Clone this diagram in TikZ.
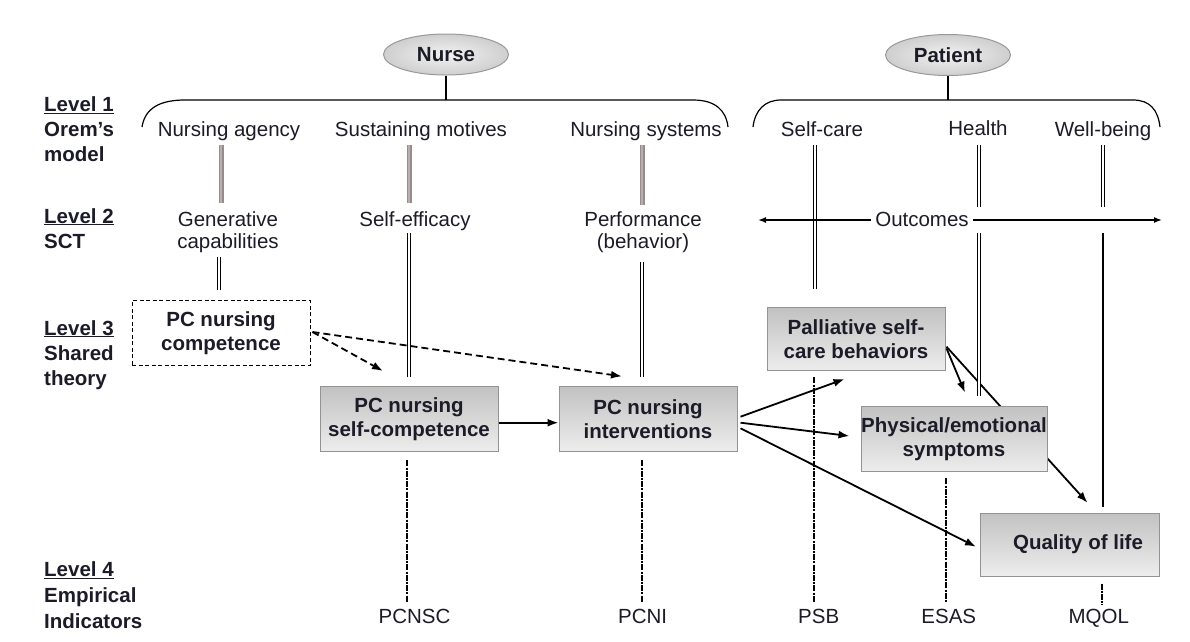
\documentclass[tikz,border=0pt]{standalone}
\usepackage{fontspec}
\setmainfont{Liberation Sans}
\usetikzlibrary{arrows.meta,calc,shapes.geometric}
\pgfdeclarelayer{background}
\pgfdeclarelayer{paper}
\pgfsetlayers{paper,background,main}
\definecolor{ink}{RGB}{28,28,40}
\definecolor{linkgray}{RGB}{150,140,140}
\definecolor{linkfill}{RGB}{185,175,175}
% text lines stacked with a given leading; the node baseline is the first line
\newcommand\rows[3]{{\fontsize{20.5}{#1}\selectfont\begin{tabular}[t]{@{}#2@{}}#3\end{tabular}}}
\begin{document}
\begin{tikzpicture}[x=1pt,y=-1pt,
  every node/.style={text=ink, inner sep=0pt, font=\fontsize{20.5}{24}\selectfont},
  hdr/.style={anchor=base west, font=\bfseries\fontsize{20.5}{25}\selectfont},
  lbl/.style={anchor=base},
  box/.style={draw=gray!85, line width=1pt, top color=gray!48, bottom color=gray!14,
    minimum width=178pt, minimum height=65pt, align=center,
    font=\bfseries\fontsize{20.5}{24.5}\selectfont},
  dbox/.style={draw=black, line width=1pt, dash pattern=on 4pt off 2.5pt, fill=white,
    minimum width=178pt, minimum height=65pt, align=center,
    font=\bfseries\fontsize{20.5}{23.5}\selectfont},
  oval/.style={ellipse, draw=gray!80, line width=1pt, inner color=gray!10, outer color=gray!38,
    minimum width=125pt, minimum height=41pt, font=\bfseries\fontsize{20.5}{24}\selectfont},
  dline/.style={draw=black, double=white, double distance=2pt, line width=1.1pt},
  gline/.style={draw=linkgray, double=linkfill, double distance=2.8pt, line width=1.1pt},
  thin/.style={line width=1.2pt},
  arr/.style={line width=1.8pt, -{Latex[length=11pt,width=8pt]}},
  darr/.style={arr, dash pattern=on 7pt off 4pt},
  ind/.style={line width=2pt, dash pattern=on 6pt off 1.2pt on 2pt off 1.2pt},
]
\useasboundingbox (0,0) rectangle (1190,641);
\begin{pgfonlayer}{paper}
\fill[white] (0,0) rectangle (1190,641);
\end{pgfonlayer}

% level headings on the left
\node[hdr] (h1) at (44,111.7) {\rows{25}{l}{\underline{Level 1}\\Orem’s\\model}};
\node[hdr] (h2) at (44,223) {\rows{25}{l}{\underline{Level 2}\\SCT}};
\node[hdr] (h3) at (44,335) {\rows{25}{l}{\underline{Level 3}\\Shared\\theory}};
\node[hdr] (h4) at (44,576.7) {\rows{25.7}{l}{\underline{Level 4}\\Empirical\\Indicators}};

% top ovals and brackets
\node[oval] (nurse) at (446,54.5) {Nurse};
\node[oval] (patient) at (948,55) {Patient};
\coordinate (nb) at (446,100);
\coordinate (pb) at (948,100);
\draw[thin] (142,127) .. controls (145,108) and (160,100) .. (185,100) -- (693,100)
  .. controls (715,100) and (726,110) .. (728,127);
\draw[thin] (753,127) .. controls (755,110) and (765,100) .. (781,100) -- (1133,100)
  .. controls (1150,100) and (1158,110) .. (1160,127);
\draw[thin] (nurse.south) -- (nb);
\draw[thin] (patient.south) -- (pb);

% level 1 concepts
\node[lbl] (nagency) at (229,136) {Nursing agency};
\node[lbl] (smotives) at (421,136) {Sustaining motives};
\node[lbl] (nsystems) at (646,136) {Nursing systems};
\node[lbl] (selfcare) at (822,136.7) {Self-care};
\node[lbl] (health) at (978,135) {Health};
\node[lbl] (wellbeing) at (1103,136) {Well-being};

% level 2 concepts
\node[lbl] (gen) at (228,226.7) {\rows{21.6}{c}{Generative\\capabilities}};
\node[lbl] (selfeff) at (415,226.7) {Self-efficacy};
\node[lbl] (perf) at (643,226.7) {\rows{21.6}{c}{Performance\\(behavior)}};

% level 3 concepts
\node[dbox] (comp) at (221,333.4) {PC nursing\\competence};
\node[box] (selfcomp) at (409,419) {PC nursing\\self-competence};
\node[box] (interv) at (648,419) {PC nursing\\interventions};
\node[box, minimum height=63pt] (pall) at (856,339.4) {Palliative self-\\care behaviors};
\node[box, minimum width=186pt] (phys) at (954,439) {Physical/emotional\\symptoms};
\node[box, minimum width=179pt, minimum height=63pt] (qol) at (1069.5,544.5) {\hspace*{17pt}Quality of life};

% level 4 indicators
\node[lbl] (pcnsc) at (414.5,623) {PCNSC};
\node[lbl] (pcni) at (642.6,623) {PCNI};
\node[lbl] (psb) at (818.7,623) {PSB};
\node[lbl] (esas) at (948.8,623) {ESAS};
\node[lbl] (mqol) at (1098.8,623) {MQOL};

% level 1 to level 2 links
\draw[gline] ($(nagency.base)+(-8,9)$) -- ($(gen.base)+(-7,-23.7)$);
\draw[gline] ($(smotives.base)+(-12,9)$) -- ($(selfeff.base)+(-6,-23.7)$);
\draw[gline] ($(nsystems.base)+(-4,9)$) -- ($(perf.base)+(-1,-21.7)$);

% patient concepts down to the outcome boxes
\draw[dline] ($(selfcare.base)+(-7,8.3)$) -- ($(pall.north)+(-41,-18)$);
\draw[dline] ($(health.base)+(1,10)$) -- ($(health.base)+(1,72)$);
\draw[dline] ($(health.base)+(1,98)$) -- ($(phys.north)+(25,-10)$);
\draw[dline] ($(wellbeing.base)+(0,9)$) -- ($(wellbeing.base)+(0,71)$);
\draw[line width=2.5pt] ($(wellbeing.base)+(0,97)$) -- ($(qol.north)+(33.5,-6)$);

% outcomes span
\coordinate (oL) at (758,220);
\coordinate (oR) at (1162,220);
\draw[line width=1.5pt, {Latex[length=8pt,width=6pt]}-{Latex[length=8pt,width=6pt]}] (oL) -- (oR);
\node[lbl, fill=white, inner xsep=4pt, inner ysep=1pt] (outc) at (922,226.7) {Outcomes};

% level 2 to level 3 links
\draw[dline] ($(gen.base)+(-9,30.3)$) -- ($(comp.north)+(-2,-10.7)$);
\draw[dline] ($(selfeff.base)+(-6,6.3)$) -- ($(selfcomp.north)+(0,-8.7)$);
\draw[dline] ($(perf.base)+(-1,35.3)$) -- ($(interv.north)+(-6,-8.7)$);

% competence feeds self-competence and interventions
\draw[darr] ($(comp.east)+(2,-1.4)$) -- ($(selfcomp.north)+(-26,-15)$);
\draw[darr] ($(comp.east)+(2,-1.4)$) -- ($(interv.north)+(-26,-9.7)$);

% causal paths
\draw[arr] ($(selfcomp.east)+(0,3.7)$) -- ($(interv.west)+(0,3.7)$);
\draw[arr] ($(interv.east)+(3,-2.3)$) -- ($(pall.south)+(-11.5,7.6)$);
\draw[arr] ($(interv.east)+(3,3.7)$) -- ($(phys.west)+(-11,-3)$);
\draw[arr] ($(interv.east)+(3,9.3)$) -- ($(qol.west)+(-3.5,2.2)$);
\draw[arr] ($(pall.east)+(1,9)$) -- ($(phys.north)+(11,-13.4)$);
\begin{pgfonlayer}{background}
% this path runs behind the symptoms box
\draw[arr] ($(pall.east)+(1,7.3)$) -- ($(qol.north)+(18,-9.7)$);
\end{pgfonlayer}

% empirical indicator links
\draw[ind] ($(selfcomp.south)+(-2.5,8.3)$) -- ($(pcnsc.base)+(-8,-21.3)$);
\draw[ind] ($(interv.south)+(-6,8.3)$) -- ($(pcni.base)+(-0.6,-21.3)$);
\draw[ind] ($(pall.south)+(-42,6)$) -- ($(psb.base)+(-4.7,-21.3)$);
\draw[ind] ($(phys.south)+(-8,6.3)$) -- ($(esas.base)+(-2.8,-21.3)$);
\draw[ind] ($(qol.south)+(32.5,7)$) -- ($(mqol.base)+(3.2,-18)$);
\end{tikzpicture}
\end{document}
